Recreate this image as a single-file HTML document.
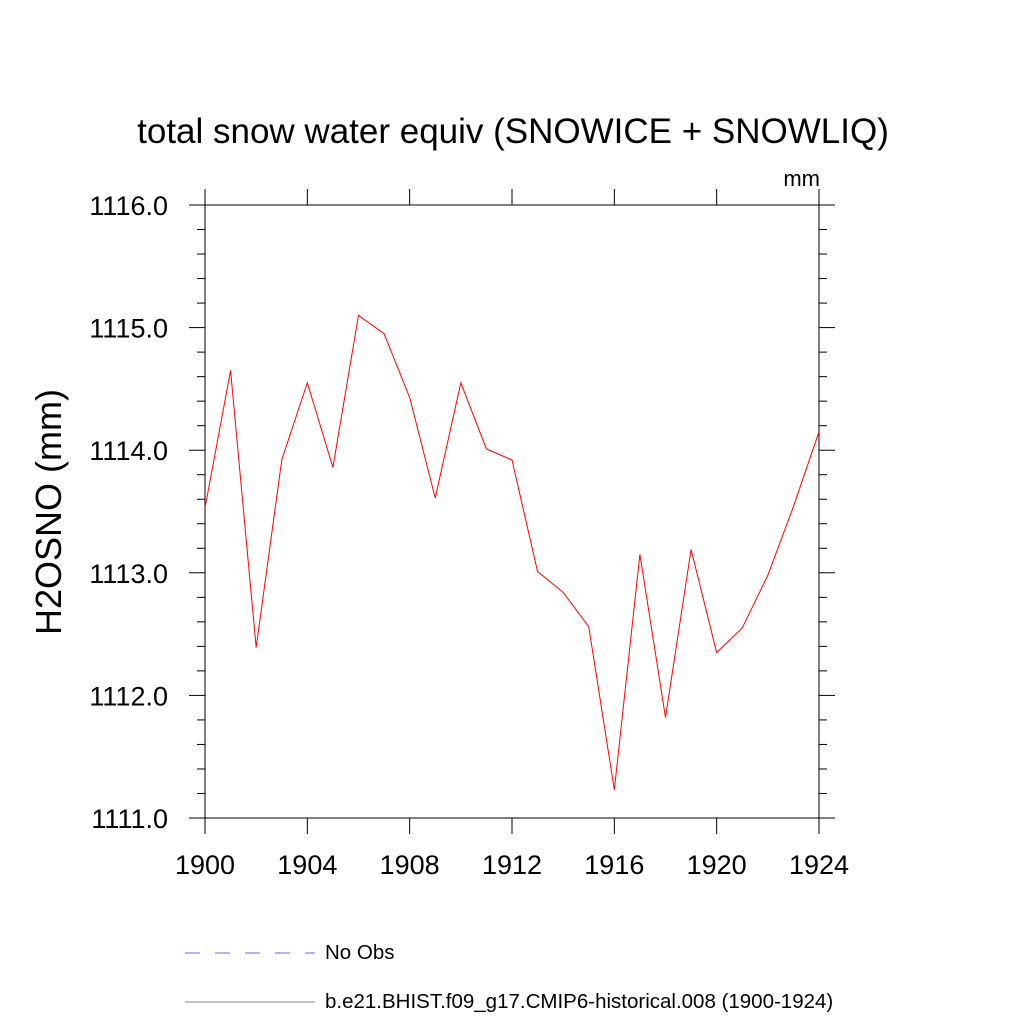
<!DOCTYPE html>
<html><head><meta charset="utf-8"><style>body{margin:0;background:#fff}svg{display:block}text{font-family:"Liberation Sans",sans-serif}</style></head>
<body>
<svg id="chart" width="1024" height="1024" viewBox="0 0 1024 1024">
<text x="513" y="143" font-size="35" text-anchor="middle">total snow water equiv (SNOWICE + SNOWLIQ)</text>
<text x="820" y="186" font-size="22" text-anchor="end">mm</text>
<text transform="translate(61,512) rotate(-90)" font-size="36" text-anchor="middle">H2OSNO  (mm)</text>
<g id="axes"></g>
<g id="series"></g>
<g>
<line x1="185" y1="953" x2="315" y2="953" stroke="#6666ff" stroke-width="1" stroke-dasharray="15,15"/>
<text x="325" y="959" font-size="20.5">No Obs</text>
<line x1="185" y1="1002" x2="315" y2="1002" stroke="#888" stroke-width="1"/>
<text x="325" y="1008" font-size="20.5">b.e21.BHIST.f09_g17.CMIP6-historical.008 (1900-1924)</text>
</g>
</svg>
<script>
const years=[1900,1901,1902,1903,1904,1905,1906,1907,1908,1909,1910,1911,1912,1913,1914,1915,1916,1917,1918,1919,1920,1921,1922,1923,1924];
const values=[1113.53,1114.65,1112.39,1113.92,1114.55,1113.86,1115.10,1114.95,1114.43,1113.61,1114.55,1114.01,1113.92,1113.01,1112.84,1112.56,1111.23,1113.15,1111.82,1113.19,1112.35,1112.55,1112.98,1113.54,1114.15];
const xTicks=[1900,1904,1908,1912,1916,1920,1924];
const yTicks=[1111,1112,1113,1114,1115,1116];
const yTickLabels=["1111.0","1112.0","1113.0","1114.0","1115.0","1116.0"];
const X0=205,X1=819,Y0=818,Y1=205;
const xs=v=>X0+(v-1900)/24*(X1-X0);
const ys=v=>Y0-(v-1111)/5*(Y0-Y1);
const NS="http://www.w3.org/2000/svg";
const ax=document.getElementById('axes');
function mk(t,a,p){const e=document.createElementNS(NS,t);for(const k in a)e.setAttribute(k,a[k]);p.appendChild(e);return e;}
const frame=mk('rect',{x:X0,y:Y1,width:X1-X0,height:Y0-Y1,fill:'none',stroke:'#000','stroke-width':1},ax);


xTicks.forEach(v=>{const x=xs(v);
const t1=mk('line',{x1:x,y1:Y0,x2:x,y2:Y0+16,stroke:'#000'},ax);


const t2=mk('line',{x1:x,y1:Y1,x2:x,y2:Y1-16,stroke:'#000'},ax);


const tx=mk('text',{x:x,y:Y0+56,'font-size':27,'text-anchor':'middle'},ax);tx.textContent=v;


});
for(let i=0;i<=25;i++){const v=1111+i*0.2;const y=ys(v);const major=i%5===0;const L=major?16:8;
const a=mk('line',{x1:X0-L,y1:y,x2:X0,y2:y,stroke:'#000'},ax);


const b=mk('line',{x1:X1,y1:y,x2:X1+L,y2:y,stroke:'#000'},ax);


}
yTicks.forEach((v,i)=>{const t=mk('text',{x:X0-37,y:ys(v)+10,'font-size':27,'text-anchor':'end'},ax);t.textContent=yTickLabels[i];


});
const line=mk('polyline',{points:years.map((y,i)=>xs(y)+','+ys(values[i])).join(' '),fill:'none',stroke:'#ff0000','stroke-width':1},document.getElementById('series'));


</script>
</body></html>
